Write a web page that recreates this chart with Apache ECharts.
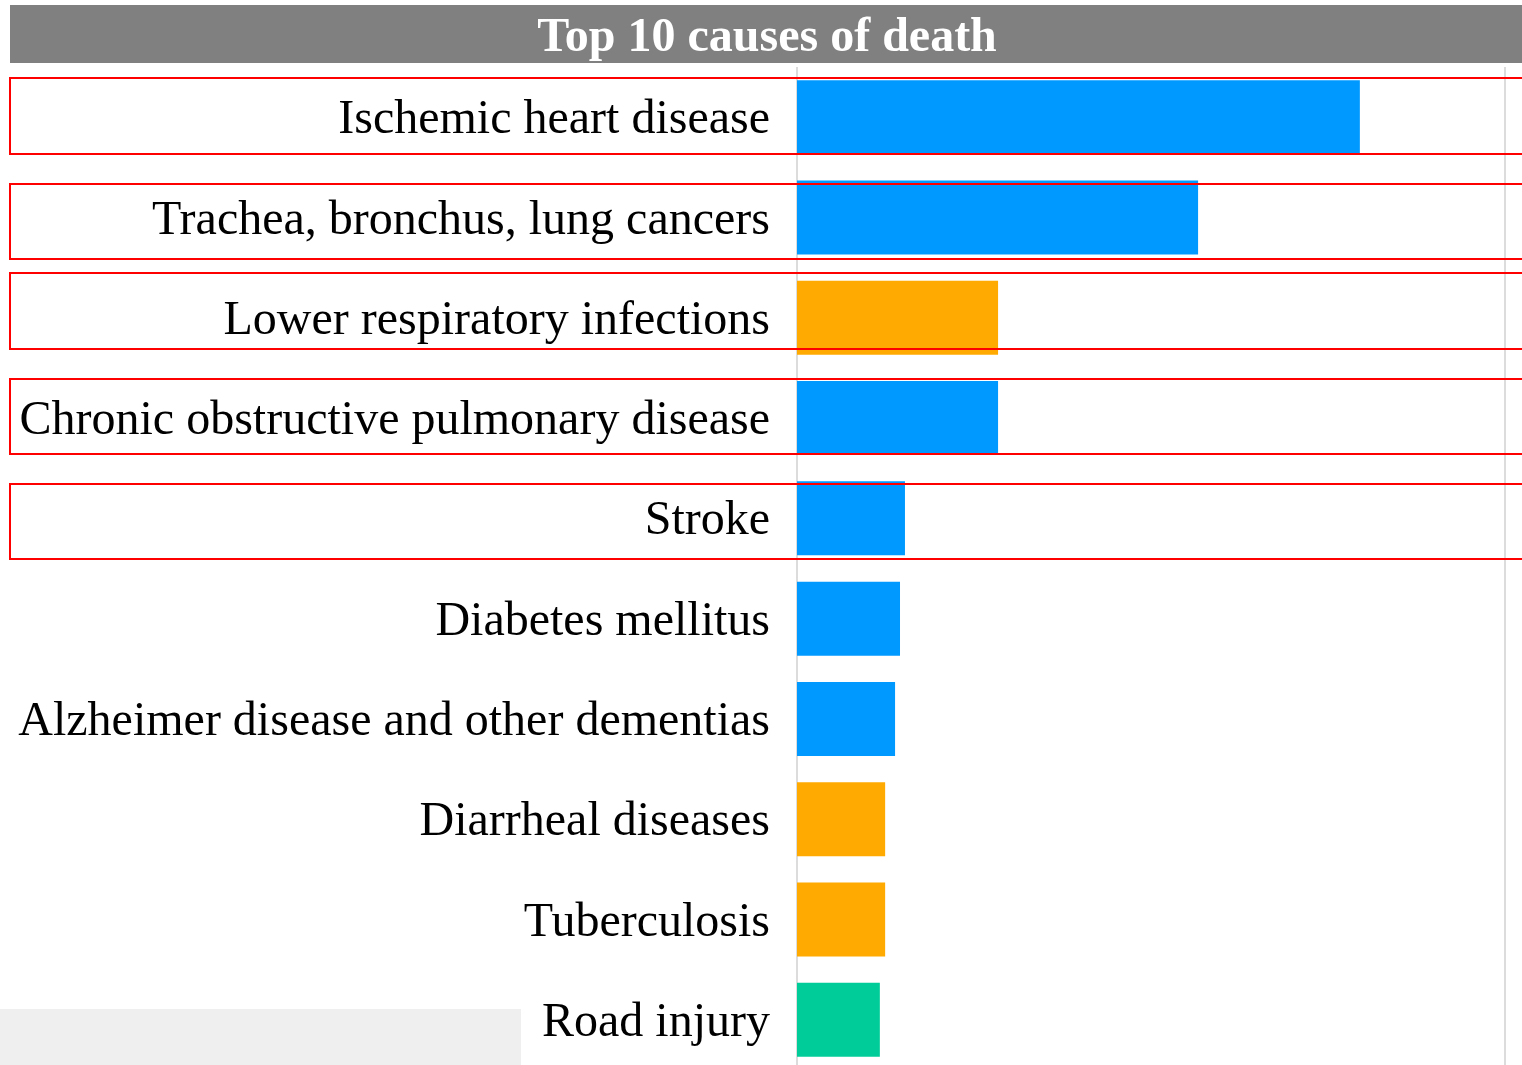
<!DOCTYPE html>
<html>
<head>
<meta charset="utf-8">
<title>Top 10 causes of death</title>
<script src="https://cdn.jsdelivr.net/npm/echarts@6/dist/echarts.min.js"></script>
<style>
	html, body {
		margin: 0;
		padding: 0;
		background: #ffffff;
	}
	#chart {
		width: 1522px;
		height: 1065px;
	}
</style>
</head>
<body>
<div id="chart"></div>
<script>
	// causes, top to bottom
	var causes = [
		'Ischemic heart disease',
		'Trachea, bronchus, lung cancers',
		'Lower respiratory infections',
		'Chronic obstructive pulmonary disease',
		'Stroke',
		'Diabetes mellitus',
		'Alzheimer disease and other dementias',
		'Diarrheal diseases',
		'Tuberculosis',
		'Road injury'
	];
	// bar lengths (axis 0 - 200)
	var deaths = [159, 113.3, 56.8, 56.8, 30.5, 29.1, 27.7, 24.9, 24.9, 23.4];
	// cause group of each bar
	var groups = ['nc', 'nc', 'com', 'nc', 'nc', 'nc', 'nc', 'com', 'com', 'inj'];
	var groupColors = {
		nc: '#0099FF',   // noncommunicable
		com: '#FFAA00',  // communicable
		inj: '#00CC99'   // injuries
	};
	var axisMax = 200;

	// highlighted rows (the red boxes), top / bottom in px
	var boxTop = [78, 184, 273, 379, 484];
	var boxBottom = [154, 259, 349, 454, 559];

	var barData = deaths.map(function (v, i) {
		return {
			value: v,
			itemStyle: { color: groupColors[groups[i]] }
		};
	});

	var graphics = [
		{
			type: 'rect',
			shape: { x: 10, y: 5, width: 1512, height: 58 },
			style: { fill: '#808080' },
			z: 10
		},
		{
			type: 'text',
			x: 767,
			y: 39,
			style: {
				text: 'Top 10 causes of death',
				fill: '#ffffff',
				font: 'bold 48px "Liberation Serif"',
				align: 'center',
				verticalAlign: 'middle'
			},
			z: 11
		},
		{
			type: 'rect',
			shape: { x: 0, y: 1009, width: 521, height: 60 },
			style: { fill: '#efefef' },
			z: -1
		}
	];
	boxTop.forEach(function (t, i) {
		graphics.push({
			type: 'rect',
			shape: { x: 10, y: t, width: 1530, height: boxBottom[i] - t },
			style: { fill: 'none', stroke: '#ff0000', lineWidth: 2 },
			z: 20
		});
	});

	var chart = echarts.init(document.getElementById('chart'));
	chart.setOption({
		animation: false,
		backgroundColor: '#ffffff',
		grid: {
			left: 797,
			right: 17,
			top: 67,
			height: 1003,
			outerBoundsMode: 'none'
		},
		xAxis: {
			type: 'value',
			min: 0,
			max: axisMax,
			interval: axisMax,
			axisLine: { show: false },
			axisTick: { show: false },
			axisLabel: { show: false },
			splitLine: {
				show: true,
				lineStyle: { color: '#dcdcdc', width: 2 }
			}
		},
		yAxis: {
			type: 'category',
			inverse: true,
			data: causes,
			axisLine: { show: false },
			axisTick: { show: false },
			axisLabel: {
				margin: 27,
				formatter: '{t|{value}}',
				rich: {
					t: {
						color: '#000000',
						fontFamily: 'Liberation Serif',
						fontSize: 48,
						padding: [7, 0, 0, 0]
					}
				}
			}
		},
		series: [{
			type: 'bar',
			data: barData,
			barWidth: 74,
			label: { show: false }
		}],
		graphic: graphics
	});
</script>
</body>
</html>
